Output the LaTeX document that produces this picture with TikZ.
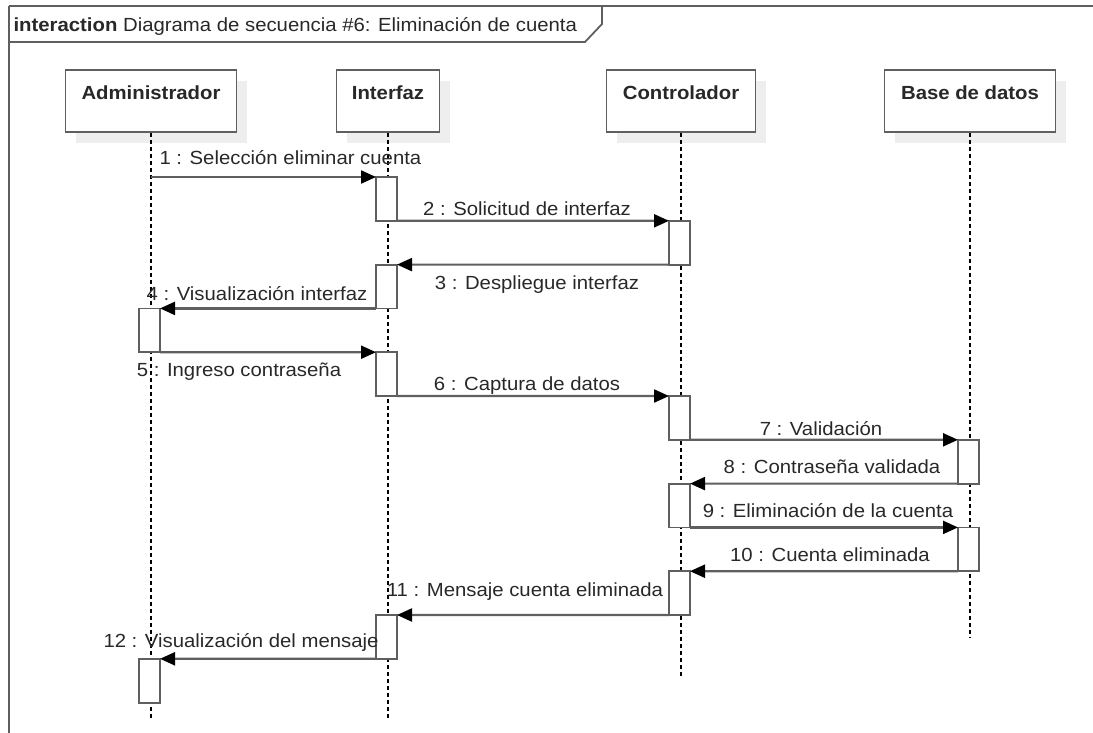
\documentclass[tikz,border=0pt]{standalone}
\usepackage{fontspec}
\setmainfont{Liberation Sans}[FakeStretch=1.07]
\usetikzlibrary{arrows.meta,shadows,positioning}
\definecolor{linegray}{RGB}{95,95,95}
\definecolor{shade}{RGB}{238,238,238}
\definecolor{ink}{RGB}{40,40,40}

\begin{document}
\begin{tikzpicture}[x=1pt,y=-1pt]
	\tikzstyle{every node}=[font=\fontsize{19}{22}\selectfont, text=ink]
	\tikzstyle{frame}=[draw=linegray, line width=1.8pt]
	\tikzstyle{head}=[draw=linegray, fill=white, line width=1.8pt, anchor=north, inner ysep=16pt, text height=14pt, text depth=16pt, font=\fontsize{19}{22}\selectfont\bfseries, drop shadow={shadow xshift=10pt, shadow yshift=-11pt, fill=shade, opacity=1}]
	\tikzstyle{life}=[draw=black, line width=1.3pt, dash pattern=on 4pt off 3pt]
	\tikzstyle{act}=[draw=linegray, fill=white, line width=1.8pt, anchor=north, minimum width=21pt, minimum height=43.8pt, inner sep=0pt, outer sep=0pt]
	\tikzstyle{msg}=[draw=linegray, line width=2.2pt, -{Triangle[length=15pt,width=13pt,color=black]}]
	\useasboundingbox (0,0) rectangle (1093,732);
	\clip (0,0) rectangle (1093,732);
	% frame and tab
	\draw [frame] (9,6) -- (1100,6);
	\draw [frame] (9,6) -- (9,740);
	\draw [frame] (9,42) -- (585,42) -- (602,24) -- (602,6);
	\node [anchor=west] (title) at (10,26) {\textbf{interaction} Diagrama de secuencia \#6: Eliminación de cuenta};
	% heads
	\node [head, minimum width=171pt] (adm) at (151,69) {Administrador};
	\node [head, minimum width=103pt] (ifz) at (388,69) {Interfaz};
	\node [head, minimum width=149pt] (ctl) at (681,69) {Controlador};
	\node [head, minimum width=171pt] (bdd) at (970,69) {Base de datos};
	% lifelines
	\coordinate (admEnd) at (151,720);
	\coordinate (ifzEnd) at (388,720);
	\coordinate (ctlEnd) at (681,677);
	\coordinate (bddEnd) at (970,638);
	\draw [life] (adm.south) -- (admEnd);
	\draw [life] (ifz.south) -- (ifzEnd);
	\draw [life] (ctl.south) -- (ctlEnd);
	\draw [life] (bdd.south) -- (bddEnd);
	% activations
	\node [act] (a1) at (386.5,177) {};
	\node [act] (a2) at (679.5,220.8) {};
	\node [act] (a3) at (386.5,264.6) {};
	\node [act] (a4) at (149.5,308.4) {};
	\node [act] (a5) at (386.5,352.2) {};
	\node [act] (a6) at (679.5,396) {};
	\node [act] (a7) at (968.5,439.8) {};
	\node [act] (a8) at (679.5,483.6) {};
	\node [act] (a9) at (968.5,527.4) {};
	\node [act] (a10) at (679.5,571.2) {};
	\node [act] (a11) at (386.5,615) {};
	\node [act] (a12) at (149.5,658.8) {};
	% messages
	\draw [msg] (adm.south |- a1.north west) -- (a1.north west);
	\draw [msg] (a1.south east) -- (a2.north west);
	\draw [msg] (a2.south west) -- (a3.north east);
	\draw [msg] (a3.south west) -- (a4.north east);
	\draw [msg] (a4.south east) -- (a5.north west);
	\draw [msg] (a5.south east) -- (a6.north west);
	\draw [msg] (a6.south east) -- (a7.north west);
	\draw [msg] (a7.south west) -- (a8.north east);
	\draw [msg] (a8.south east) -- (a9.north west);
	\draw [msg] (a9.south west) -- (a10.north east);
	\draw [msg] (a10.south west) -- (a11.north east);
	\draw [msg] (a11.south west) -- (a12.north east);
	% labels
	\node [anchor=west] (l1) at (156,158) {1 : Selección eliminar cuenta};
	\node (l2) at (527,209) {2 : Solicitud de interfaz};
	\node (l3) at (537,285) {3 : Despliegue interfaz};
	\node (l4) at (257,294) {4 : Visualización interfaz};
	\node (l5) at (239,372) {5 : Ingreso contraseña};
	\node (l6) at (527,386) {6 : Captura de datos};
	\node (l7) at (821,429) {7 : Validación};
	\node (l8) at (832,467) {8 : Contraseña validada};
	\node (l9) at (828,511) {9 : Eliminación de la cuenta};
	\node (l10) at (830,555) {10 : Cuenta eliminada};
	\node (l11) at (525,592) {11 : Mensaje cuenta eliminada};
	\node (l12) at (241,642) {12 : Visualización del mensaje};
\end{tikzpicture}
\end{document}
